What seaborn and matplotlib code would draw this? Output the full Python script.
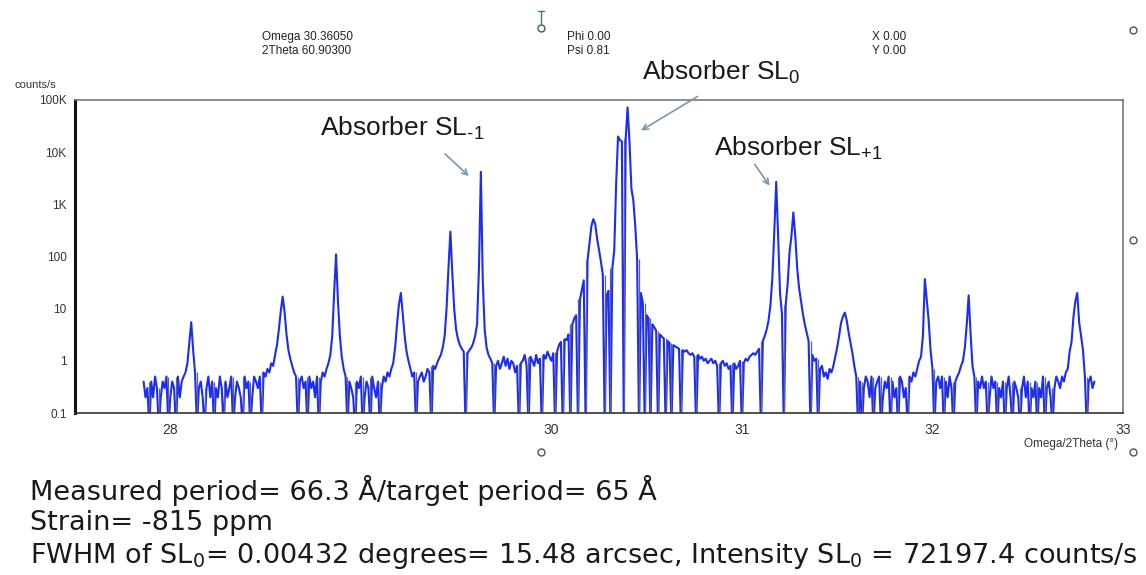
import numpy as np
import matplotlib
matplotlib.use("Agg")
import matplotlib.pyplot as plt
from matplotlib.lines import Line2D
import seaborn as sns

# ---- scan data (counts/s, 0 = no counts) ----
scan_start = 27.86
scan_step = 0.01
counts = [
    0.4, 0.2, 0.3, 0, 0.4, 0.2, 0.5, 0.3, 0, 0.2,        # 27.86
    0.4, 0.3, 0.5, 0, 0.2, 0.4, 0.3, 0, 0.5, 0.2,        # 27.96
    0.4, 0.5, 0.6, 0.9, 2.2, 5.5, 1.6, 0.6, 0, 0.3,      # 28.06
    0.4, 0.2, 0, 0.3, 0.5, 0.2, 0.4, 0, 0.3, 0.2,        # 28.16
    0.5, 0.3, 0, 0.4, 0.2, 0.3, 0.5, 0, 0.2, 0.4,        # 28.26
    0.3, 0.2, 0, 0.5, 0.3, 0.4, 0, 0.2, 0.5, 0.4,        # 28.36
    0.3, 0.5, 0, 0.6, 0.5, 0.7, 0.6, 0.9, 0.8, 1.3,      # 28.46
    2.0, 4.0, 9.0, 17, 8.5, 3.2, 1.6, 1.1, 0.8, 0.6,     # 28.56
    0.5, 0, 0.4, 0.5, 0.3, 0.4, 0, 0.5, 0.3, 0.4,        # 28.66
    0.2, 0.5, 0, 0.4, 0.6, 0.5, 0.7, 0.9, 1.3, 3.0,      # 28.76
    20, 110, 14, 3.0, 1.2, 0.7, 0.5, 0, 0.4, 0.3,        # 28.86
    0.2, 0, 0.4, 0.3, 0.5, 0, 0.2, 0.4, 0.3, 0,          # 28.96
    0.5, 0.3, 0.2, 0.4, 0, 0.3, 0.5, 0.4, 0.6, 0.5,      # 29.06
    0.7, 0.9, 1.8, 5.0, 12, 20, 8.0, 3.0, 1.5, 1.0,      # 29.16
    0.7, 0.5, 0.6, 0, 0.4, 0.5, 0.6, 0.4, 0.5, 0.7,      # 29.26
    0.6, 0, 0.8, 0.7, 0.9, 1.1, 1.3, 1.8, 3.0, 10,       # 29.36
    60, 300, 50, 10, 4.0, 2.6, 2.0, 1.7, 1.5, 0,         # 29.46
    1.4, 1.6, 1.8, 2.2, 3.0, 5.0, 60, 4200, 35, 4.0,     # 29.56
    1.8, 1.3, 1.1, 0.9, 0, 0.8, 1.0, 0.7, 0.9, 1.2,      # 29.66
    0.8, 1.1, 0.7, 1.0, 0.9, 0.6, 0.8, 0, 0.9, 1.0,      # 29.76
    1.3, 0.8, 0, 1.2, 1.0, 0.8, 1.3, 0.9, 1.1, 0,        # 29.86
    1.3, 1.1, 1.5, 1.2, 1.0, 1.4, 0, 1.5, 2.0, 2.3,      # 29.96
    0, 2.6, 2.5, 3.2, 0, 5.0, 6.5, 7.5, 0, 15,           # 30.06
    23, 35, 0, 85, 180, 380, 520, 420, 220, 135,         # 30.16
    80, 45, 0, 18, 22, 0, 60, 130, 2500, 20000,          # 30.26
    17000, 16000, 0, 18000, 72197, 16000, 2000, 1200, 400, 90,  # 30.36
    0, 20, 13, 0, 7.5, 6.5, 0, 5.0, 4.4, 3.8,            # 30.46
    0, 3.2, 2.9, 2.7, 0, 2.4, 2.2, 0, 2.0, 1.9,          # 30.56
    1.8, 1.7, 0, 1.6, 1.5, 1.6, 1.4, 1.3, 1.4, 1.2,      # 30.66
    0, 1.3, 1.1, 1.2, 1.0, 1.1, 0.9, 1.0, 1.1, 0.9,      # 30.76
    1.0, 0.8, 0, 0.9, 1.0, 0.8, 0.9, 0.7, 0.8, 0,        # 30.86
    0.9, 0.7, 0.8, 1.0, 0, 0.9, 1.1, 1.0, 1.2, 1.3,      # 30.96
    1.4, 1.3, 1.5, 1.7, 0, 2.4, 3.0, 4.0, 6.0, 12,       # 31.06
    40, 300, 2700, 250, 20, 8.0, 0, 12, 30, 120,         # 31.16
    250, 700, 250, 60, 25, 14, 8.0, 5.0, 3.5, 2.4,       # 31.26
    0, 1.3, 1.0, 1.1, 0, 0.7, 0.8, 0.5, 0.6, 0.45,       # 31.36
    0.7, 0.6, 0.8, 1.2, 1.8, 3.0, 5.3, 7.0, 8.4, 6.0,    # 31.46
    3.5, 2.2, 1.4, 0.8, 0.5, 0, 0.4, 0, 0.3, 0.5,        # 31.56
    0.4, 0.2, 0.5, 0, 0.3, 0.4, 0.5, 0, 0.2, 0.4,        # 31.66
    0.3, 0.5, 0, 0.4, 0.2, 0.3, 0, 0.5, 0.4, 0.2,        # 31.76
    0.3, 0, 0.5, 0.4, 0.6, 0.5, 0.7, 1.0, 1.2, 3.0,      # 31.86
    37, 15, 6.0, 1.6, 0.7, 0, 0.4, 0.5, 0.3, 0.5,        # 31.96
    0, 0.4, 0.2, 0.5, 0.3, 0, 0.4, 0.5, 0.6, 0.8,        # 32.06
    1.0, 1.8, 5.0, 18, 3.4, 0.8, 0.5, 0, 0.4, 0.3,       # 32.16
    0.5, 0.3, 0.4, 0, 0.2, 0.5, 0.3, 0.4, 0, 0.3,        # 32.26
    0.2, 0.4, 0, 0.3, 0.5, 0.2, 0, 0.4, 0.3, 0.2,        # 32.36
    0, 0.3, 0.5, 0.2, 0.4, 0, 0.3, 0.2, 0.4, 0,          # 32.46
    0.3, 0.2, 0.5, 0, 0.3, 0.4, 0.2, 0, 0.3, 0.5,        # 32.56
    0.4, 0.3, 0.5, 0.4, 0.6, 0.7, 1.5, 2.3, 7.0, 14,     # 32.66
    20, 5.4, 3.0, 1.6, 0.5, 0, 0.4, 0.5, 0.3, 0.4,       # 32.76
]
two_theta = np.round(scan_start + scan_step * np.arange(len(counts)), 2)
counts = np.array(counts, dtype=float)

y_ticks = [0.1, 1, 10, 100, 1e3, 1e4, 1e5]
y_ticklabels = ["0.1", "1", "10", "100", "1K", "10K", "100K"]
x_ticks = [28, 29, 30, 31, 32, 33]

# peak labels: text, where the arrow points (x, counts)
peak_labels = [r"Absorber SL$_{\text{-1}}$", r"Absorber SL$_0$", r"Absorber SL$_{+1}$"]
peak_targets = [(29.578, 3200), (30.458, 24400), (31.154, 2060)]

notes = [
    "Measured period= 66.3 Å/target period= 65 Å",
    "Strain= -815 ppm",
    r"FWHM of SL$_0$= 0.00432 degrees= 15.48 arcsec, Intensity SL$_0$ = 72197.4 counts/s",
]

# ---- style ----
sns.set_style("white")
plt.rcParams['font.family'] = ['Liberation Sans', 'DejaVu Sans']
plt.rcParams['mathtext.fontset'] = 'custom'
plt.rcParams['mathtext.rm'] = 'Liberation Sans'
plt.rcParams['mathtext.it'] = 'Liberation Sans:italic'
plt.rcParams['mathtext.default'] = 'regular'

W, H = 1146, 575
def fp(x, y):  # figure pixel (from top-left) -> figure fraction
    return x / W, 1 - y / H

fig = plt.figure(figsize=(W / 100, H / 100), dpi=100)
ax = fig.add_axes([75 / W, (H - 413) / H, (1123 - 75) / W, (413 - 100) / H])

blue = "#1a2cf5"
floor = 0.1
# zero counts are drawn down to (below) the plot floor, like the instrument software does
plot_counts = np.where(counts > 0, counts, floor / 2)
sns.lineplot(x=two_theta, y=plot_counts, color=blue, lw=1.5, ax=ax)

# zero-count drop lines (darker)
zero_idx = np.where(counts == 0)[0]
tops = [max(counts[max(i - 1, 0)], counts[min(i + 1, len(counts) - 1)]) for i in zero_idx]
ax.vlines(two_theta[zero_idx], floor / 2, tops, color="#5f5f9c", lw=0.9)

ax.set_yscale("log")
ax.set_xlim(27.5, 33)
ax.set_ylim(floor, 1e5)
ax.set_yticks(y_ticks)
ax.set_yticklabels(y_ticklabels, fontsize=8.5, color="#333333")
ax.yaxis.set_minor_locator(matplotlib.ticker.NullLocator())
ax.set_xticks(x_ticks)
ax.set_xticklabels([str(t) for t in x_ticks], fontsize=10, color="#333333")
ax.set_xticks([t + 0.5 for t in x_ticks[:-1]], minor=True)
ax.tick_params(axis="both", which="both", direction="out", length=4, width=1,
               color="#333333", pad=2)
ax.tick_params(axis="x", which="major", pad=3)
ax.set_xlabel("")
ax.set_ylabel("")

for side in ["top", "right"]:
    ax.spines[side].set_color("#777777")
    ax.spines[side].set_linewidth(1.2)
ax.spines["left"].set_color("#111111")
ax.spines["left"].set_linewidth(2.2)
ax.spines["bottom"].set_color("#333333")
ax.spines["bottom"].set_linewidth(1.2)

# axis captions
fig.text(*fp(35, 85), "counts/s", fontsize=8, ha="center", va="center", color="#333333")
fig.text(*fp(1118, 444), "Omega/2Theta (°)", fontsize=8.5, ha="right", va="center", color="#333333")

# instrument header
header = [(262, "Omega 30.36050", "2Theta 60.90300"),
          (567, "Phi 0.00", "Psi 0.81"),
          (872, "X 0.00", "Y 0.00")]
for hx, l1, l2 in header:
    fig.text(*fp(hx, 37), l1, fontsize=8.5, ha="left", va="center", color="#222222")
    fig.text(*fp(hx, 51), l2, fontsize=8.5, ha="left", va="center", color="#222222")

# window handles
for cx, cy in [(541, 28), (1133, 30), (1133, 240), (541, 452), (1133, 452)]:
    fig.add_artist(Line2D([cx / W], [1 - cy / H], marker="o", ms=5, mfc="white",
                          mec="#555555", mew=1, transform=fig.transFigure))
fig.add_artist(Line2D([541 / W, 541 / W], [1 - 11 / H, 1 - 24 / H], color="#2e8b57",
                      lw=1, transform=fig.transFigure))
fig.add_artist(Line2D([538 / W, 544 / W], [1 - 11 / H, 1 - 11 / H], color="#2e8b57",
                      lw=1, transform=fig.transFigure))

# peak annotations
label_pos = [(320, 128), (642, 72), (714, 148)]
arrow_start = [(443, 152), (700, 95), (753, 162)]
for txt, (tx, ty), (sx, sy), tgt in zip(peak_labels, label_pos, arrow_start, peak_targets):
    fig.text(*fp(tx, ty), txt, fontsize=19, ha="left", va="center", color="#1a1a1a")
    ax.annotate("", xy=tgt, xycoords="data", xytext=fp(sx, sy), textcoords="figure fraction",
                arrowprops=dict(arrowstyle="->", color="#7a97ad", lw=1.2),
                annotation_clip=False)

# summary lines under the chart (wider face to match the stretched original)
for i, line in enumerate(notes):
    fig.text(*fp(30, 490 + 33 * i), line, fontsize=19.5, ha="left", va="center",
             color="#1a1a1a", family="DejaVu Sans",
             math_fontfamily="dejavusans")

fig.savefig("out.png", dpi=100)
